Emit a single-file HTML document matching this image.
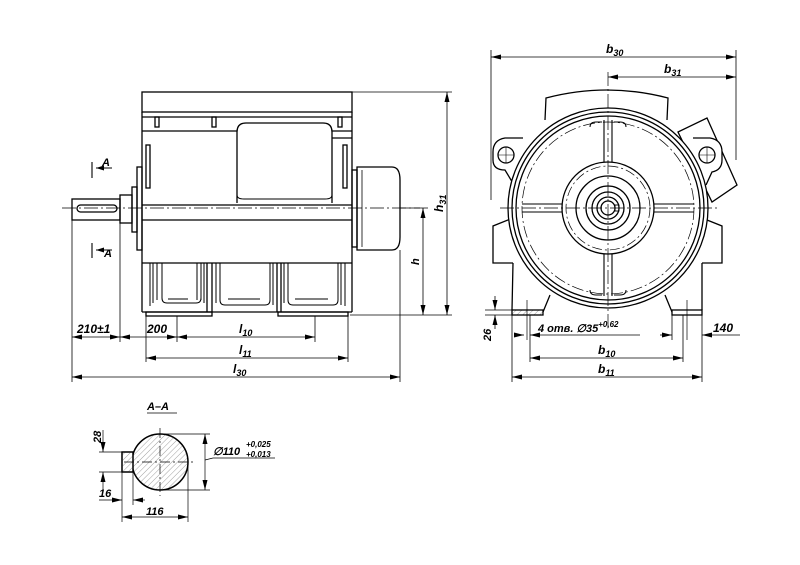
<!DOCTYPE html>
<html><head><meta charset="utf-8"><style>
html,body{margin:0;padding:0;background:#fff;}
svg{display:block;}
text{font-family:"Liberation Sans",sans-serif;font-style:italic;font-weight:bold;fill:#000;}
</style></head><body>
<svg width="800" height="565" viewBox="0 0 800 565" xmlns="http://www.w3.org/2000/svg">
<defs>
<marker id="a" markerWidth="10" markerHeight="6" refX="10" refY="3" orient="auto-start-reverse" markerUnits="userSpaceOnUse"><path d="M0,0.5 L10,3 L0,5.5z" fill="#000"/></marker>
<pattern id="h" width="4" height="4" patternUnits="userSpaceOnUse" patternTransform="rotate(45)"><line x1="0" y1="0" x2="0" y2="4" stroke="#888" stroke-width="0.8"/></pattern>
</defs>
<g fill="none" stroke="#000" stroke-width="1.3">
<!-- SIDE VIEW -->
<rect x="142" y="92" width="210" height="20"/>
<line x1="142" y1="112" x2="142" y2="312"/><line x1="352" y1="112" x2="352" y2="312"/>
<line x1="142" y1="117" x2="352" y2="117"/>
<line x1="142" y1="131" x2="237" y2="131"/><line x1="332" y1="131" x2="352" y2="131"/>
<line x1="332" y1="138" x2="352" y2="138"/>
<rect x="155" y="117" width="4" height="10"/><rect x="212" y="117" width="4" height="10"/><rect x="338" y="117" width="4" height="10"/>
<path d="M237,203 V132 Q237,123 246,123 H323 Q332,123 332,132 V203"/>
<path d="M237,195 Q237,199 244,199 H325 Q332,199 332,195" stroke-width="1"/>
<rect x="146" y="145" width="4" height="43"/><rect x="343" y="145" width="4" height="43"/>
<line x1="142" y1="205" x2="352" y2="205"/><line x1="142" y1="220" x2="352" y2="220"/>
<line x1="142" y1="263" x2="352" y2="263"/><line x1="142" y1="312" x2="352" y2="312"/>
<g stroke-width="1">
<path d="M150,263 V306 M153,263 V303 M157,263 V300 M162,263 V298 Q162,303 167,303 H196 Q201,303 201,298 V263 M197,263 V300 M201,263 V300 M204,263 V303 M207,263 V306"/>
<path d="M212,263 V306 M216,263 V303 M220,263 V300 Q220,305 225,305 H265 Q270,305 270,300 V263 M273,263 V305"/>
<path d="M281,263 V306 M284,263 V303 M288,263 V300 Q288,305 293,305 H333 Q338,305 338,300 V263 M341,263 V305 M345,263 V306"/>
<line x1="168" y1="299" x2="188" y2="299"/><line x1="228" y1="299" x2="260" y2="299"/><line x1="295" y1="299" x2="328" y2="299"/>
</g>
<line x1="207" y1="263" x2="207" y2="312"/><line x1="212" y1="263" x2="212" y2="312"/><line x1="277" y1="263" x2="277" y2="312"/><line x1="281" y1="263" x2="281" y2="312"/>
<rect x="146" y="312" width="66" height="4"/><rect x="278" y="312" width="70" height="4"/>
<rect x="72" y="199" width="48" height="21"/>
<rect x="77" y="205" width="40" height="7" rx="3.5"/>
<rect x="120" y="195" width="12" height="28"/>
<rect x="132" y="187" width="5" height="45"/>
<rect x="137" y="167" width="5" height="83"/>
<rect x="352" y="170" width="5" height="77"/>
<path d="M357,167 H392 Q400,167 400,180 V237 Q400,250 392,250 H357 Z"/>
<line x1="362" y1="170" x2="362" y2="247" stroke-width="0.8"/>
<line x1="62" y1="208" x2="420" y2="208" stroke-width="0.7" stroke-dasharray="14,3,2,3"/>
<path d="M92,162 V178 M96,168 H112" stroke-width="1.1"/><path d="M92,243 V258 M96,250 H112" stroke-width="1.1"/>
</g>
<g fill="#000"><path d="M96,168 l8,-2.5 v5z"/><path d="M96,250 l8,-2.5 v5z"/></g>
<g fill="none" stroke="#000" stroke-width="0.8">
<line x1="352" y1="92" x2="452" y2="92"/><line x1="350" y1="315" x2="452" y2="315"/><line x1="400" y1="208" x2="428" y2="208"/>
<line x1="447" y1="92" x2="447" y2="315" marker-start="url(#a)" marker-end="url(#a)"/>
<line x1="423" y1="208" x2="423" y2="315" marker-start="url(#a)" marker-end="url(#a)"/>
<line x1="72" y1="220" x2="72" y2="382"/><line x1="120" y1="223" x2="120" y2="342"/>
<line x1="146" y1="316" x2="146" y2="362"/><line x1="348" y1="316" x2="348" y2="362"/>
<line x1="177" y1="316" x2="177" y2="342"/><line x1="315" y1="316" x2="315" y2="342"/>
<line x1="400" y1="250" x2="400" y2="382"/>
<line x1="72" y1="337" x2="120" y2="337" marker-start="url(#a)" marker-end="url(#a)"/>
<line x1="120" y1="337" x2="177" y2="337" marker-start="url(#a)" marker-end="url(#a)"/>
<line x1="177" y1="337" x2="315" y2="337" marker-start="url(#a)" marker-end="url(#a)"/>
<line x1="146" y1="358" x2="348" y2="358" marker-start="url(#a)" marker-end="url(#a)"/>
<line x1="72" y1="377" x2="400" y2="377" marker-start="url(#a)" marker-end="url(#a)"/>
</g>
<g font-size="12">
<text x="77" y="333">210±1</text><text x="147" y="333">200</text>
<text x="239" y="333">l<tspan font-size="9" dy="3">10</tspan></text>
<text x="239" y="354">l<tspan font-size="9" dy="3">11</tspan></text>
<text x="233" y="373">l<tspan font-size="9" dy="3">30</tspan></text>
<text x="102" y="166" font-size="11">A</text><text x="104" y="257" font-size="11">A</text>
<text transform="translate(443,212) rotate(-90)">h<tspan font-size="9" dy="3">31</tspan></text>
<text transform="translate(419,265) rotate(-90)" font-size="11">h</text>
</g>
<!-- FRONT VIEW -->
<g fill="none" stroke="#000" stroke-width="1.3">
<path d="M545,120 L546,98 Q607,82 668,98 L667,120"/>
<path d="M678,132 L707,118 L737,185 L712,202 Z" fill="#fff"/>
<path d="M523,138 L505,138 Q493,140 493,152 V160 Q493,170 505,170 L514,185" fill="#fff"/>
<circle cx="506" cy="155" r="8"/><path d="M498,155 h16 M506,147 v16" stroke-width="0.6"/>
<path d="M693,138 L710,138 Q722,140 722,152 V160 Q722,170 712,172 L706,185" fill="#fff"/>
<circle cx="707" cy="155" r="8"/><path d="M699,155 h16 M707,147 v16" stroke-width="0.6"/>
<path d="M513,218 L493,226 V263 H513 M702,218 L722,226 V263 H702"/>
<path d="M513,263 L512,310 M702,263 L702,310"/>
<path d="M550,295 L543,312 M665,295 L672,312"/>
<rect x="512" y="310" width="31" height="5" fill="url(#h)"/><rect x="672" y="310" width="30" height="5"/>
<circle cx="608" cy="208" r="100" fill="#fff"/>
<circle cx="608" cy="208" r="96"/><circle cx="608" cy="208" r="92"/>
<circle cx="608" cy="208" r="86" stroke-width="0.7" stroke-dasharray="12,3,2,3"/>
<circle cx="608" cy="208" r="46"/><circle cx="608" cy="208" r="42" stroke-width="0.7" stroke-dasharray="10,3,2,3"/>
<circle cx="608" cy="208" r="32"/><circle cx="608" cy="208" r="22"/><circle cx="608" cy="208" r="16"/><circle cx="608" cy="208" r="11"/><circle cx="608" cy="208" r="7"/>
<rect x="615" y="205" width="4" height="6" stroke-width="0.9"/>
<path d="M604,120 V162 M612,120 V162 M604,254 V296 M612,254 V296" stroke-width="1.1"/>
<path d="M522,204 H562 M522,212 H562 M654,204 H694 M654,212 H694" stroke-width="1.1"/>
<path d="M590,127 Q590,122 596,122 H602 M614,122 H620 Q626,122 626,127 M590,290 Q590,295 596,295 H602 M614,295 H620 Q626,295 626,290" stroke-width="1"/>
<line x1="608" y1="72" x2="608" y2="330" stroke-width="0.7" stroke-dasharray="14,3,2,3"/>
<line x1="500" y1="208" x2="718" y2="208" stroke-width="0.7" stroke-dasharray="14,3,2,3"/>
<line x1="527" y1="300" x2="527" y2="340" stroke-width="0.7"/><line x1="687" y1="300" x2="687" y2="340" stroke-width="0.7"/>
</g>
<g fill="none" stroke="#000" stroke-width="0.8">
<line x1="491" y1="50" x2="491" y2="200"/><line x1="736" y1="50" x2="736" y2="160"/>
<line x1="491" y1="57" x2="736" y2="57" marker-start="url(#a)" marker-end="url(#a)"/>
<line x1="608" y1="77" x2="736" y2="77" marker-start="url(#a)" marker-end="url(#a)"/>
<line x1="485" y1="310" x2="512" y2="310"/><line x1="485" y1="315" x2="512" y2="315"/>
<line x1="495" y1="296" x2="495" y2="310" marker-end="url(#a)"/><line x1="495" y1="329" x2="495" y2="315" marker-end="url(#a)"/>
<line x1="512" y1="315" x2="512" y2="382"/><line x1="702" y1="315" x2="702" y2="382"/>
<line x1="530" y1="315" x2="530" y2="362"/><line x1="683" y1="315" x2="683" y2="362"/><line x1="672" y1="315" x2="672" y2="340"/>
<line x1="514" y1="335" x2="524" y2="335" marker-end="url(#a)"/><line x1="640" y1="335" x2="530" y2="335" marker-end="url(#a)"/>
<line x1="660" y1="335" x2="672" y2="335" marker-end="url(#a)"/><line x1="740" y1="335" x2="702" y2="335" marker-end="url(#a)"/>
<line x1="530" y1="358" x2="683" y2="358" marker-start="url(#a)" marker-end="url(#a)"/>
<line x1="512" y1="377" x2="702" y2="377" marker-start="url(#a)" marker-end="url(#a)"/>
</g>
<g font-size="12">
<text x="606" y="53">b<tspan font-size="9" dy="3">30</tspan></text>
<text x="664" y="73">b<tspan font-size="9" dy="3">31</tspan></text>
<text x="538" y="332" font-size="11">4 отв. ∅35<tspan font-size="8" dy="-5">+0,62</tspan></text>
<text x="713" y="332">140</text>
<text x="598" y="354">b<tspan font-size="9" dy="3">10</tspan></text>
<text x="598" y="373">b<tspan font-size="9" dy="3">11</tspan></text>
<text transform="translate(491,341) rotate(-90)" font-size="11">26</text>
</g>
<!-- SECTION A-A -->
<g font-size="11"><text x="147" y="410">A–A</text>
<text x="213" y="455">∅110</text><text x="246" y="447" font-size="8">+0,025</text><text x="246" y="457" font-size="8">+0,013</text>
<text transform="translate(101,443) rotate(-90)">28</text><text x="99" y="497">16</text><text x="146" y="515">116</text></g>
<line x1="147" y1="413" x2="177" y2="413" stroke="#000" stroke-width="0.8"/>
<g stroke="#000" fill="none">
<circle cx="160" cy="462" r="28" fill="url(#h)" stroke-width="1.5"/>
<rect x="122" y="452" width="11" height="20" fill="#fff" stroke-width="1.3"/>
<rect x="122" y="452" width="11" height="20" fill="url(#h)" stroke-width="1.3"/>
<g stroke-width="0.7"><line x1="160" y1="428" x2="160" y2="496" stroke-dasharray="10,3,2,3"/><line x1="124" y1="462" x2="196" y2="462" stroke-dasharray="10,3,2,3"/>
<line x1="160" y1="434" x2="210" y2="434"/><line x1="160" y1="490" x2="210" y2="490"/>
<line x1="205" y1="434" x2="205" y2="490" marker-start="url(#a)" marker-end="url(#a)"/>
<line x1="205" y1="460" x2="213" y2="458"/><line x1="213" y1="458" x2="275" y2="458"/>
<line x1="99" y1="452" x2="122" y2="452"/><line x1="99" y1="472" x2="122" y2="472"/>
<line x1="103" y1="430" x2="103" y2="452" marker-end="url(#a)"/><line x1="103" y1="490" x2="103" y2="472" marker-end="url(#a)"/>
<line x1="122" y1="472" x2="122" y2="522"/><line x1="133" y1="472" x2="133" y2="505"/><line x1="188" y1="462" x2="188" y2="522"/>
<line x1="99" y1="500" x2="122" y2="500" marker-end="url(#a)"/><line x1="145" y1="500" x2="133" y2="500" marker-end="url(#a)"/>
<line x1="122" y1="517" x2="188" y2="517" marker-start="url(#a)" marker-end="url(#a)"/></g>
</g>
</svg>
</body></html>
